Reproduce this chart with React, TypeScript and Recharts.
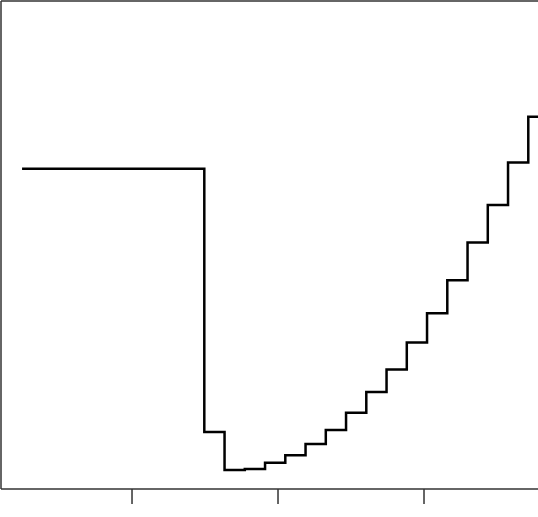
import { LineChart, Line, XAxis, YAxis, ReferenceLine } from 'recharts'

// step positions and levels
const xValues = [0, 9, 10, 11, 12, 13, 14, 15, 16, 17, 18, 19, 20, 21, 22, 23, 24, 25, 26]
const yValues = [65.6, 11.7, 3.9, 4.1, 5.4, 6.9, 9.2, 12.1, 15.6, 19.9, 24.5, 30.0, 36.0, 42.8, 50.5, 58.2, 66.9, 76.3, 86]
const xTicks = [5.43, 12.64, 19.85]

const xDomain: [number, number] = [-1.04, 27.06]
const yDomain: [number, number] = [0, 100]

const data = xValues.map((x, i) => ({ x, y: yValues[i] }))

export default function App() {
  return (
    <div style={{ position: 'absolute', left: 0, top: 0, width: 538, height: 517, overflow: 'hidden', background: '#fff' }}>
      <LineChart width={570} height={517} data={data} margin={{ top: 1, right: 0, bottom: 0, left: 1 }}>
        <XAxis
          dataKey="x"
          type="number"
          domain={xDomain}
          ticks={xTicks}
          allowDataOverflow
          height={28}
          tickSize={15}
          tickFormatter={() => ''}
          axisLine={{ stroke: '#333', strokeWidth: 1.5 }}
          tickLine={{ stroke: '#333', strokeWidth: 1.5 }}
        />
        <YAxis type="number" domain={yDomain} allowDataOverflow hide />
        {/* box border: top and left edges */}
        <ReferenceLine y={yDomain[1]} stroke="#333" strokeWidth={1.5} ifOverflow="visible" />
        <ReferenceLine x={xDomain[0]} stroke="#333" strokeWidth={1.5} ifOverflow="visible" />
        <Line
          type="stepAfter"
          dataKey="y"
          stroke="#000"
          strokeWidth={2.5}
          dot={false}
          isAnimationActive={false}
        />
      </LineChart>
    </div>
  )
}
